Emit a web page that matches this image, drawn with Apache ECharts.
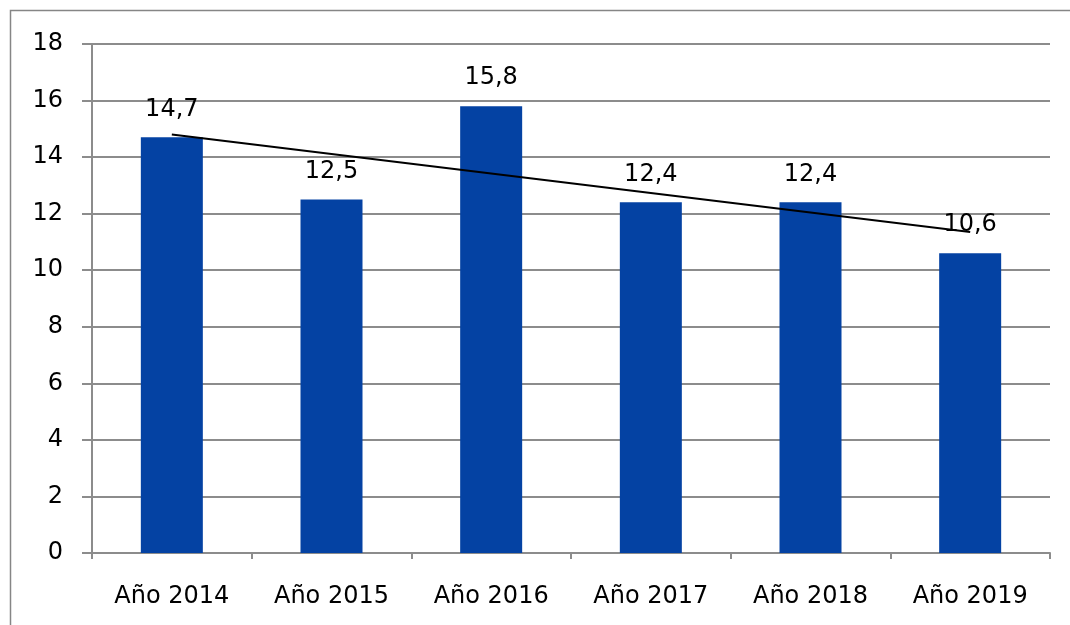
<!DOCTYPE html>
<html>
<head>
<meta charset="utf-8">
<script src="https://cdn.jsdelivr.net/npm/echarts@6/dist/echarts.min.js"></script>
<style>
  html, body { margin: 0; padding: 0; background: #fff; }
  #chart { width: 1070px; height: 625px; }
</style>
</head>
<body>
<div id="chart"></div>
<script>
// datos
const categories = ['Año 2014', 'Año 2015', 'Año 2016', 'Año 2017', 'Año 2018', 'Año 2019'];
const values = [14.7, 12.5, 15.8, 12.4, 12.4, 10.6];
// extremos de la línea de tendencia
const trendStart = 14.8;
const trendEnd = 11.35;

const font = '"DejaVu Sans", sans-serif';

const chart = echarts.init(document.getElementById('chart'), null, { renderer: 'canvas' });

chart.setOption({
  animation: false,
  backgroundColor: '#fff',
  graphic: [{
    type: 'rect',
    shape: { x: 10.5, y: 10.5, width: 1100, height: 700 },
    style: { fill: 'none', stroke: '#868686', lineWidth: 1.5 },
    silent: true,
    z: -1
  }],
  grid: { left: 92, right: 20, top: 44, bottom: 72 },
  xAxis: {
    type: 'category',
    data: categories,
    axisLine: { lineStyle: { color: '#8c8c8c', width: 2 } },
    axisTick: { show: true, length: 6, lineStyle: { color: '#8c8c8c', width: 2 } },
    axisLabel: { color: '#000', fontSize: 24, fontFamily: font, margin: 32 }
  },
  yAxis: {
    type: 'value',
    min: 0,
    max: 18,
    interval: 2,
    axisLine: { show: true, lineStyle: { color: '#8c8c8c', width: 2 } },
    axisTick: { show: true, length: 10, lineStyle: { color: '#8c8c8c', width: 2 } },
    splitLine: { lineStyle: { color: '#8c8c8c', width: 2 } },
    axisLabel: { color: '#000', fontSize: 24, fontFamily: font, margin: 29 }
  },
  series: [
    {
      type: 'bar',
      data: values,
      barWidth: 62,
      itemStyle: { color: '#0442a3' },
      label: {
        show: true,
        position: 'top',
        distance: 16,
        color: '#000',
        fontSize: 24,
        fontFamily: font,
        formatter: p => String(p.value).replace('.', ',')
      },
      z: 2
    },
    {
      type: 'line',
      data: [[categories[0], trendStart], [categories[categories.length - 1], trendEnd]],
      symbol: 'none',
      lineStyle: { color: '#000', width: 2 },
      z: 3
    }
  ]
});

window.addEventListener('resize', () => chart.resize());
</script>
</body>
</html>
